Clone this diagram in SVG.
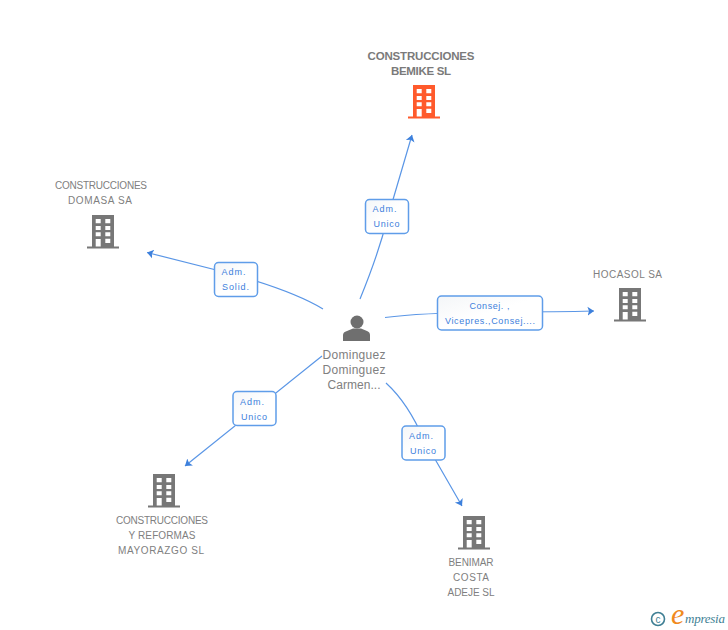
<svg xmlns="http://www.w3.org/2000/svg" width="728" height="630" viewBox="0 0 728 630">
<style>
.n{font-family:"Liberation Sans",Arial,sans-serif;font-size:10px;fill:#808080;text-anchor:middle}
.b{font-size:11.500px;font-weight:bold;fill:#7a7a7a}
.p{font-size:12px}
.l{font-family:"Liberation Sans",Arial,sans-serif;font-size:9px;fill:#3d80dc;text-anchor:middle}
.r{fill:url(#g);stroke:#5f9de9;stroke-width:1.5}
.c{fill:none;stroke:#5a96e6;stroke-width:1.2}
</style>
<defs>
<linearGradient id="g" x1="0" y1="0" x2="1" y2="1"><stop offset="0" stop-color="#f4f6f8"/><stop offset=".5" stop-color="#fff"/><stop offset="1" stop-color="#fff"/></linearGradient>
<marker id="a" markerUnits="userSpaceOnUse" markerWidth="10" markerHeight="12" refX="6.500" refY="6" orient="auto"><path d="M0 1.500L6.500 6L0 10.500L1.500 6Z" fill="#3d80dc"/></marker>
<path id="bld" fill-rule="evenodd" d="M413 85H435V116.500H440V118.500H408V116.500H413ZM416.700 89V93.300H421.700V89ZM426.300 89V93.300H431.300V89ZM416.700 96V100H421.700V96ZM426.300 96V100H431.300V96ZM416.700 102.300V106.300H421.700V102.300ZM426.300 102.300V106.300H431.300V102.300ZM416.700 109V116.500H421.700V109ZM426.300 108.700V113H431.300V108.700Z"/>
</defs>
<g id="connectors">
<path class="c" marker-end="url(#a)" d="M360 299Q378 255 387 220L412 135"/>
<path class="c" marker-end="url(#a)" d="M323 309Q295 292 236 275L147 252.500"/>
<path class="c" marker-end="url(#a)" d="M385 317.500Q420 313 490 312Q550 312 594 311"/>
<path class="c" marker-end="url(#a)" d="M322 356L185 466"/>
<path class="c" marker-end="url(#a)" d="M386 383Q408 403 424 440L462 506"/>
</g>
<g id="node-bemike">
<use href="#bld" fill="#ff5a2c"/>
<text class="n b" x="421" y="60" textLength="107">CONSTRUCCIONES</text>
<text class="n b" x="421" y="75" textLength="60">BEMIKE SL</text>
</g>
<g id="node-domasa">
<use href="#bld" x="-321" y="130" fill="#777"/>
<text class="n" x="101" y="189" textLength="92">CONSTRUCCIONES</text>
<text class="n" x="100" y="204" textLength="64">DOMASA SA</text>
</g>
<g id="node-hocasol">
<use href="#bld" x="206" y="203" fill="#777"/>
<text class="n" x="627.500" y="278" textLength="69">HOCASOL SA</text>
</g>
<g id="node-mayorazgo">
<use href="#bld" x="-260" y="389" fill="#777"/>
<text class="n" x="162" y="524" textLength="92">CONSTRUCCIONES</text>
<text class="n" x="162" y="539" textLength="67">Y REFORMAS</text>
<text class="n" x="161" y="554" textLength="86">MAYORAZGO SL</text>
</g>
<g id="node-benimar">
<use href="#bld" x="50" y="431" fill="#777"/>
<text class="n" x="471" y="566" textLength="45">BENIMAR</text>
<text class="n" x="471" y="581" textLength="36">COSTA</text>
<text class="n" x="471" y="596" textLength="47">ADEJE SL</text>
</g>
<g id="node-person">
<circle cx="357" cy="322" r="6.500" fill="#6f6f6f"/>
<path d="M343 341V335Q343 332 347 331L353 328.500H361L367 331Q370 332 370 335V341Z" fill="#6f6f6f"/>
<text class="n p" x="354" y="359" textLength="63">Dominguez</text>
<text class="n p" x="354" y="374" textLength="63">Dominguez</text>
<text class="n p" x="354" y="389" textLength="53">Carmen...</text>
</g>
<g id="label-1">
<rect class="r" x="365.500" y="199.500" width="43" height="34" rx="4"/>
<text class="l" x="384.500" y="212" textLength="24">Adm.</text>
<text class="l" x="386.500" y="227" textLength="26">Unico</text>
</g>
<g id="label-2">
<rect class="r" x="214.500" y="262.500" width="43" height="34" rx="4"/>
<text class="l" x="233.500" y="275" textLength="24">Adm.</text>
<text class="l" x="235.500" y="290" textLength="27">Solid.</text>
</g>
<g id="label-3">
<rect class="r" x="437.500" y="296" width="105" height="34" rx="4"/>
<text class="l" x="489.500" y="309" textLength="40">Consej. ,</text>
<text class="l" x="490" y="324" textLength="90">Vicepres.,Consej....</text>
</g>
<g id="label-4">
<rect class="r" x="233" y="391.500" width="43" height="34" rx="4"/>
<text class="l" x="252" y="405" textLength="24">Adm.</text>
<text class="l" x="254" y="420" textLength="26">Unico</text>
</g>
<g id="label-5">
<rect class="r" x="402" y="426" width="43" height="34" rx="4"/>
<text class="l" x="421" y="439" textLength="24">Adm.</text>
<text class="l" x="423" y="454" textLength="26">Unico</text>
</g>
<g id="logo">
<circle cx="658" cy="619" r="6.500" fill="none" stroke="#3f7f94" stroke-width="1.600"/>
<text x="658" y="622.500" font-family="Liberation Sans,sans-serif" font-size="10" fill="#3f7f94" text-anchor="middle">c</text>
<text x="671" y="624" font-family="Liberation Serif,serif" font-style="italic" font-size="30" fill="#f08a1d">e</text>
<text x="685" y="623" font-family="Liberation Serif,serif" font-style="italic" font-size="13" textLength="40" fill="#3f7f94">mpresia</text>
</g>
</svg>
